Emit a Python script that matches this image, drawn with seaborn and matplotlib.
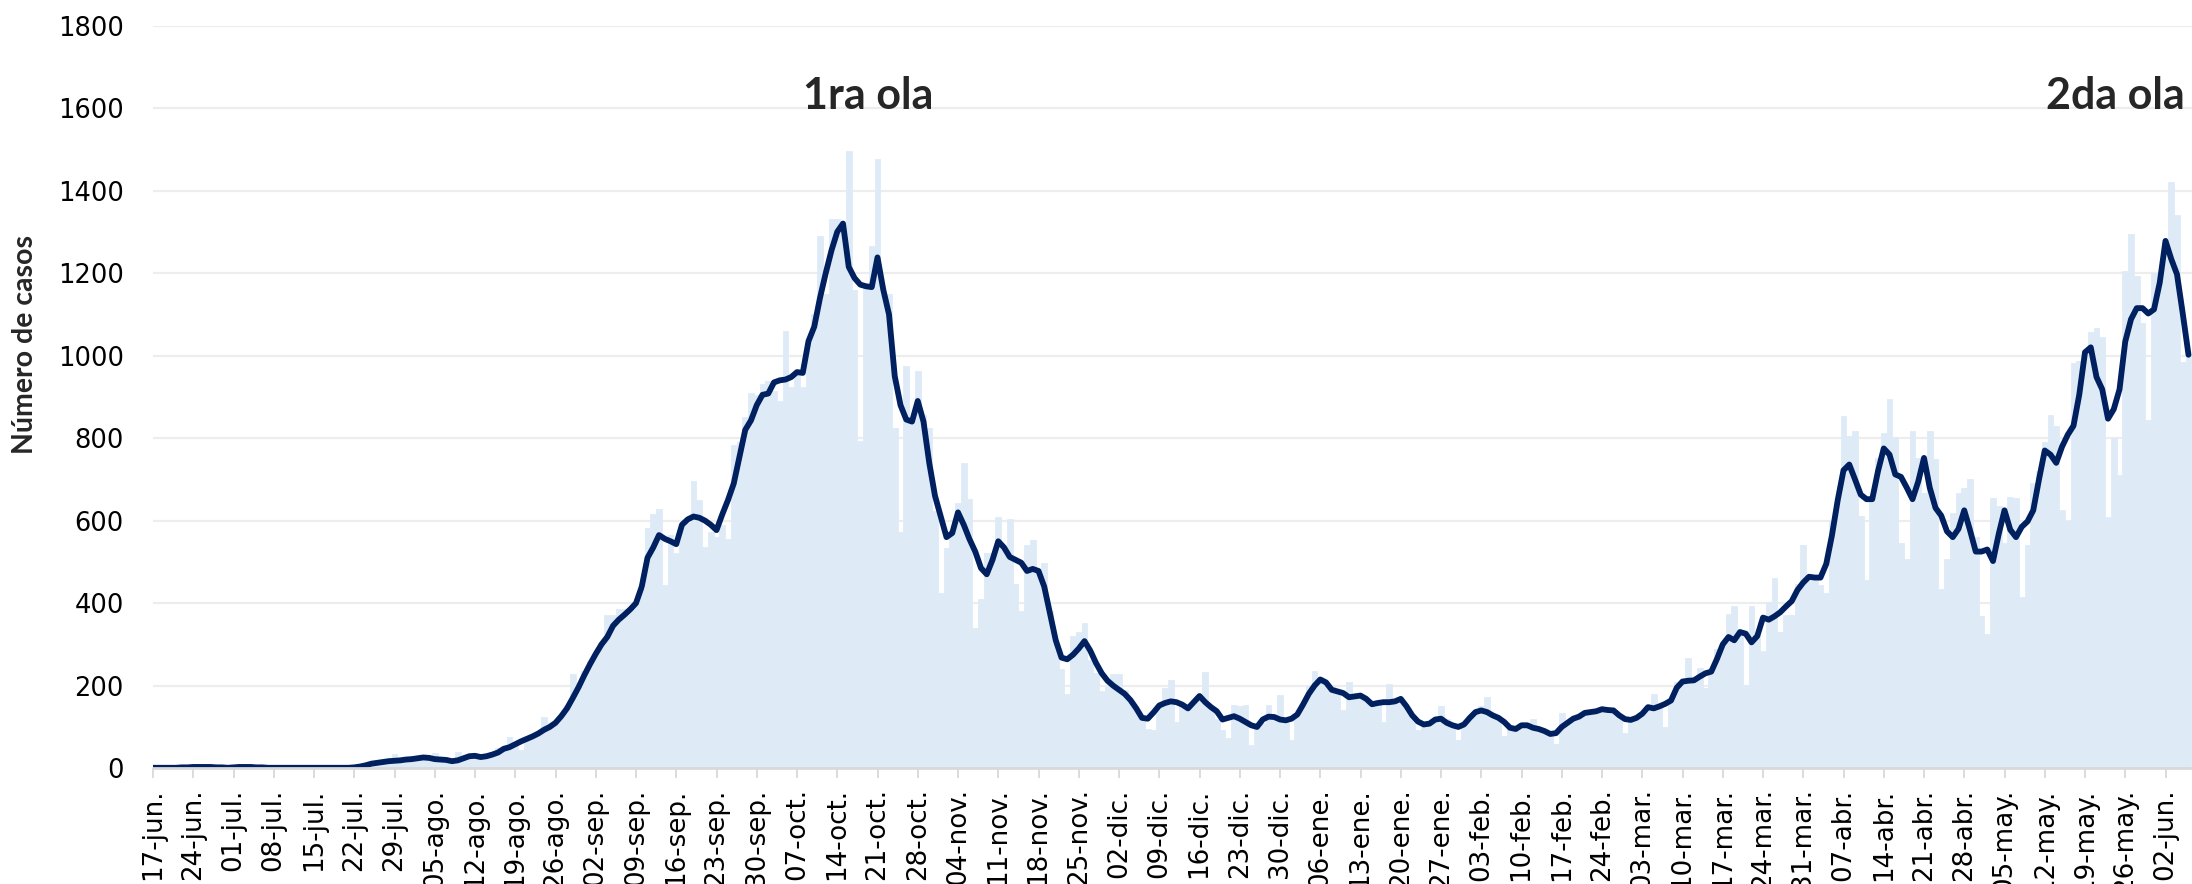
import numpy as np
import pandas as pd
import matplotlib
matplotlib.use("Agg")
import matplotlib.pyplot as plt
import seaborn as sns

# ---------------- data ----------------
tick_labels = ["17-jun.", "24-jun.", "01-jul.", "08-jul.", "15-jul.", "22-jul.", "29-jul.",
               "05-ago.", "12-ago.", "19-ago.", "26-ago.", "02-sep.", "09-sep.", "16-sep.",
               "23-sep.", "30-sep.", "07-oct.", "14-oct.", "21-oct.", "28-oct.", "04-nov.",
               "11-nov.", "18-nov.", "25-nov.", "02-dic.", "09-dic.", "16-dic.", "23-dic.",
               "30-dic.", "06-ene.", "13-ene.", "20-ene.", "27-ene.", "03-feb.", "10-feb.",
               "17-feb.", "24-feb.", "03-mar.", "10-mar.", "17-mar.", "24-mar.", "31-mar.",
               "07-abr.", "14-abr.", "21-abr.", "28-abr.", "05-may.", "12-may.", "19-may.",
               "26-may.", "02-jun."]

daily_cases = [
    0, 1, 1, 1, 2, 1, 2,
    3, 4, 3, 4, 3, 2, 2,
    1, 3, 4, 3, 2, 2, 1,
    1, 1, 1, 1, 1, 1, 1,
    1, 1, 1, 1, 1, 0, 1,
    2, 5, 9, 12, 14, 16, 19,
    35, 20, 22, 24, 28, 26, 24,
    37, 18, 20, 12, 40, 26, 31,
    33, 24, 30, 36, 50, 48, 75,
    60, 45, 72, 80, 88, 125, 110,
    112, 128, 150, 229, 190, 235, 260,
    280, 305, 372, 372, 386, 386, 380,
    400, 434, 583, 617, 628, 443, 564,
    521, 590, 595, 696, 649, 536, 572,
    560, 590, 555, 783, 790, 850, 910,
    905, 930, 938, 913, 890, 1060, 925,
    960, 925, 1030, 1100, 1289, 1150, 1330,
    1330, 1320, 1497, 1160, 793, 1170, 1265,
    1477, 1150, 1150, 825, 573, 974, 840,
    963, 855, 825, 623, 425, 534, 575,
    643, 740, 652, 340, 409, 522, 522,
    610, 530, 605, 447, 380, 540, 552,
    480, 497, 380, 300, 240, 181, 320,
    331, 352, 263, 230, 188, 200, 229,
    229, 190, 160, 140, 120, 95, 93,
    150, 195, 213, 113, 150, 150, 160,
    175, 233, 150, 120, 93, 72, 154,
    150, 154, 56, 100, 110, 154, 120,
    177, 110, 68, 130, 150, 200, 236,
    222, 210, 200, 180, 140, 209, 180,
    180, 170, 150, 160, 113, 205, 160,
    165, 150, 130, 93, 100, 110, 120,
    151, 120, 100, 68, 110, 125, 140,
    150, 172, 130, 125, 79, 100, 95,
    100, 105, 120, 95, 90, 80, 59,
    134, 110, 125, 125, 135, 136, 140,
    145, 140, 142, 128, 86, 115, 125,
    130, 150, 181, 145, 100, 164, 209,
    210, 266, 213, 243, 195, 235, 290,
    300, 374, 392, 330, 202, 394, 320,
    284, 404, 461, 329, 372, 372, 447,
    542, 468, 468, 444, 424, 600, 650,
    853, 804, 818, 612, 457, 655, 752,
    813, 894, 802, 546, 506, 817, 752,
    667, 817, 750, 434, 506, 619, 667,
    680, 701, 560, 370, 325, 655, 636,
    545, 658, 655, 415, 540, 690, 720,
    790, 857, 830, 625, 600, 983, 987,
    1010, 1056, 1068, 1046, 609, 800, 711,
    1205, 1294, 1193, 1080, 843, 1201, 1180,
    1280, 1421, 1340, 984, 1000,
]

moving_avg = [
    1, 1, 1, 1, 1, 2, 2,
    3, 3, 3, 3, 2, 2, 1,
    2, 3, 3, 3, 2, 2, 1,
    1, 1, 1, 1, 1, 1, 1,
    1, 1, 1, 1, 1, 1, 1,
    2, 4, 7, 11, 13, 15, 17,
    18, 19, 21, 22, 24, 26, 25,
    22, 21, 20, 17, 19, 24, 29,
    30, 27, 29, 33, 38, 47, 51,
    58, 65, 71, 77, 84, 93, 100,
    110, 126, 145, 170, 196, 225, 252,
    277, 300, 318, 345, 360, 372, 385,
    400, 440, 510, 535, 565, 556, 550,
    543, 590, 603, 610, 607, 600, 590,
    577, 615, 650, 690, 755, 820, 843,
    880, 905, 908, 935, 940, 942, 948,
    960, 958, 1035, 1070, 1140, 1200, 1255,
    1300, 1320, 1215, 1188, 1172, 1168, 1166,
    1238, 1160, 1100, 950, 880, 845, 840,
    890, 840, 740, 660, 610, 560, 570,
    620, 590, 555, 525, 485, 470, 505,
    550, 535, 512, 505, 498, 478, 483,
    478, 440, 375, 310, 268, 264, 275,
    290, 308, 285, 255, 230, 212, 200,
    190, 180, 165, 145, 122, 120, 135,
    152, 158, 162, 160, 154, 145, 160,
    175, 160, 148, 138, 118, 122, 126,
    120, 112, 104, 100, 118, 125, 124,
    118, 116, 120, 130, 154, 180, 200,
    215, 208, 190, 186, 182, 172, 174,
    176, 168, 155, 158, 160, 160, 162,
    168, 150, 128, 113, 106, 108, 118,
    120, 110, 104, 100, 106, 122, 136,
    140, 136, 128, 122, 112, 98, 95,
    104, 104, 98, 95, 90, 83, 85,
    100, 110, 120, 125, 134, 136, 138,
    143, 141, 140, 128, 119, 117, 122,
    132, 148, 145, 150, 156, 164, 195,
    210, 212, 213, 222, 230, 234, 265,
    300, 318, 310, 330, 326, 305, 320,
    365, 360, 368, 378, 392, 405, 432,
    450, 464, 462, 462, 495, 565, 650,
    722, 736, 700, 663, 652, 652, 720,
    775, 760, 712, 706, 680, 652, 695,
    752, 680, 631, 612, 574, 560, 580,
    625, 577, 525, 525, 530, 502, 568,
    625, 578, 560, 585, 598, 625, 700,
    770, 760, 740, 779, 808, 830, 905,
    1008, 1020, 948, 918, 847, 870, 918,
    1034, 1088, 1115, 1115, 1102, 1112, 1177,
    1278, 1234, 1197, 1102, 1002,
]

wave_labels = ["1ra ola", "2da ola"]
y_ticks = [0, 200, 400, 600, 800, 1000, 1200, 1400, 1600, 1800]

# ---------------- figure ----------------
W, H = 2192, 884
DPI = 100
PX_PER_DAY = 5.75
X_MAX = 360

sns.set_theme(style="white")
plt.rcParams["font.family"] = ["DejaVu Sans"]

fig = plt.figure(figsize=(W / DPI, H / DPI), dpi=DPI)
left = 153 / W
bottom = 1 - 768.2 / H
top = 1 - 25.5 / H
ax = fig.add_axes([left, bottom, X_MAX * PX_PER_DAY / W, top - bottom])

n = len(daily_cases)
df = pd.DataFrame({"dia": np.arange(n), "casos": daily_cases, "media": moving_avg[:n]})

bar_color = "#DEEBF7"
line_color = "#002060"

sns.barplot(data=df, x="dia", y="casos", color=bar_color, width=1.0,
            saturation=1, ax=ax, linewidth=0.6, edgecolor=bar_color, zorder=2)
sns.lineplot(data=df, x="dia", y="media", color=line_color, linewidth=4.2,
             ax=ax, zorder=4, solid_joinstyle="round", solid_capstyle="round")

ax.set_xlim(0, X_MAX)
ax.set_ylim(0, 1800)
ax.set_yticks(y_ticks)
ax.set_yticklabels([str(v) for v in y_ticks], fontsize=18.5, color="#000000")
tick_pos = np.arange(0, 7 * len(tick_labels), 7)
ax.set_xticks(tick_pos)
ax.set_xticklabels(tick_labels, rotation=90, fontsize=18.8, color="#000000",
                   va="top", ha="center")

ax.grid(axis="y", color="#EDEDED", linewidth=1.6, zorder=0)
ax.grid(axis="x", visible=False)
ax.set_axisbelow(True)
for s in ax.spines.values():
    s.set_visible(False)
ax.axhline(0, color="#D9D9D9", linewidth=2.0, zorder=5, clip_on=False)

ax.tick_params(axis="y", length=0, pad=21)
ax.tick_params(axis="x", length=7.5, width=1.3, color="#D9D9D9", pad=7,
               direction="out", bottom=True)
ax.set_xlabel("")
ax.set_ylabel("")

fig.text(25 / W, 1 - 345 / H, "Número de casos", rotation=90, ha="center",
         va="center", fontsize=20.5, fontweight="bold", family=["Lato", "DejaVu Sans"])

ax.text(124.3, 1629, wave_labels[0], ha="center", va="center", fontsize=31,
        fontweight="bold", family=["Lato", "DejaVu Sans"], zorder=6)
ax.text(329.2, 1629, wave_labels[1], ha="left", va="center", fontsize=31,
        fontweight="bold", family=["Lato", "DejaVu Sans"], zorder=6, clip_on=False)

fig.savefig("out.png", dpi=DPI)
